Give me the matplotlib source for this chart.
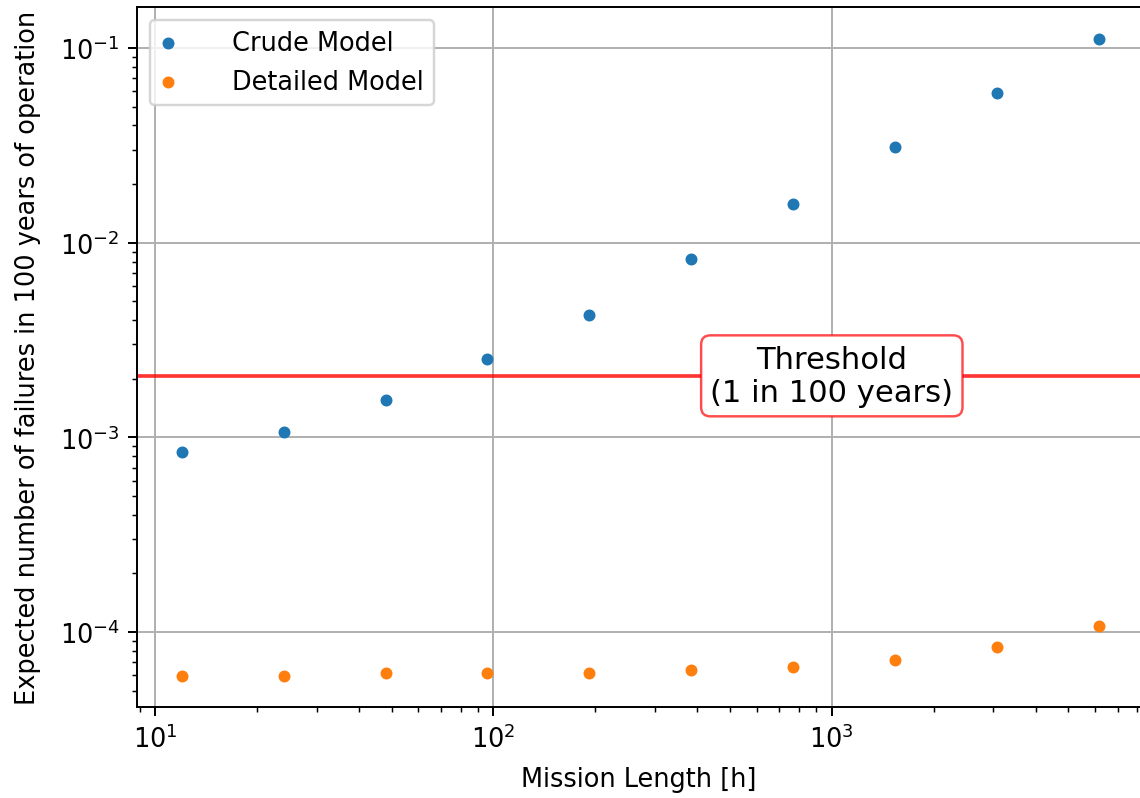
import numpy as np
import matplotlib
matplotlib.use("Agg")
import matplotlib.pyplot as plt
from matplotlib.legend_handler import HandlerPathCollection

mission_length = [12, 24, 48, 96, 192, 384, 768, 1536, 3072, 6144]
crude = [8.37e-4, 1.07e-3, 1.55e-3, 2.52e-3, 4.27e-3, 8.28e-3, 1.58e-2, 3.11e-2, 5.87e-2, 0.111]
detailed = [5.94e-5, 5.94e-5, 6.15e-5, 6.15e-5, 6.15e-5, 6.38e-5, 6.6e-5, 7.18e-5, 8.38e-5, 1.07e-4]
threshold = 2.07e-3

plt.rcParams["font.size"] = 10.45


class LeftHandler(HandlerPathCollection):
    def get_xdata(self, legend, xdescent, ydescent, width, height, fontsize):
        xdata = [-xdescent, -xdescent + width]
        xdata_marker = [-xdescent + 0.16 * width]
        return xdata, xdata_marker


DPI = 176.4
fig = plt.figure(figsize=(1140 / DPI, 799 / DPI), dpi=DPI)
ax = fig.add_axes([137 / 1140, 1 - 708 / 799, (1141 - 137) / 1140, (708 - 8) / 799])

sc1 = ax.scatter(mission_length, crude, s=15, label="Crude Model", zorder=3)
sc2 = ax.scatter(mission_length, detailed, s=15, label="Detailed Model", zorder=3)
ax.axhline(threshold, color="red", alpha=0.8, lw=1.5, zorder=2)
ax.text(1000, threshold, "Threshold\n(1 in 100 years)", ha="center", va="center",
        fontsize=12.5,
        bbox=dict(boxstyle="round", fc="white", ec=(1, 0, 0, 0.7), lw=1.0), zorder=4)

ax.set_xscale("log")
ax.set_yscale("log")
ax.set_xlim(8.84, 8200)
ax.set_ylim(4.12e-5, 0.1624)
ax.grid(True, which="major")
ax.set_axisbelow(True)
ax.set_xlabel("Mission Length [h]", labelpad=5.5)
ax.set_ylabel("Expected number of failures in 100 years of operation", labelpad=7.5)
ax.legend(loc="upper left", handler_map={sc1: LeftHandler(), sc2: LeftHandler()})

fig.savefig("out.png", dpi=DPI)
